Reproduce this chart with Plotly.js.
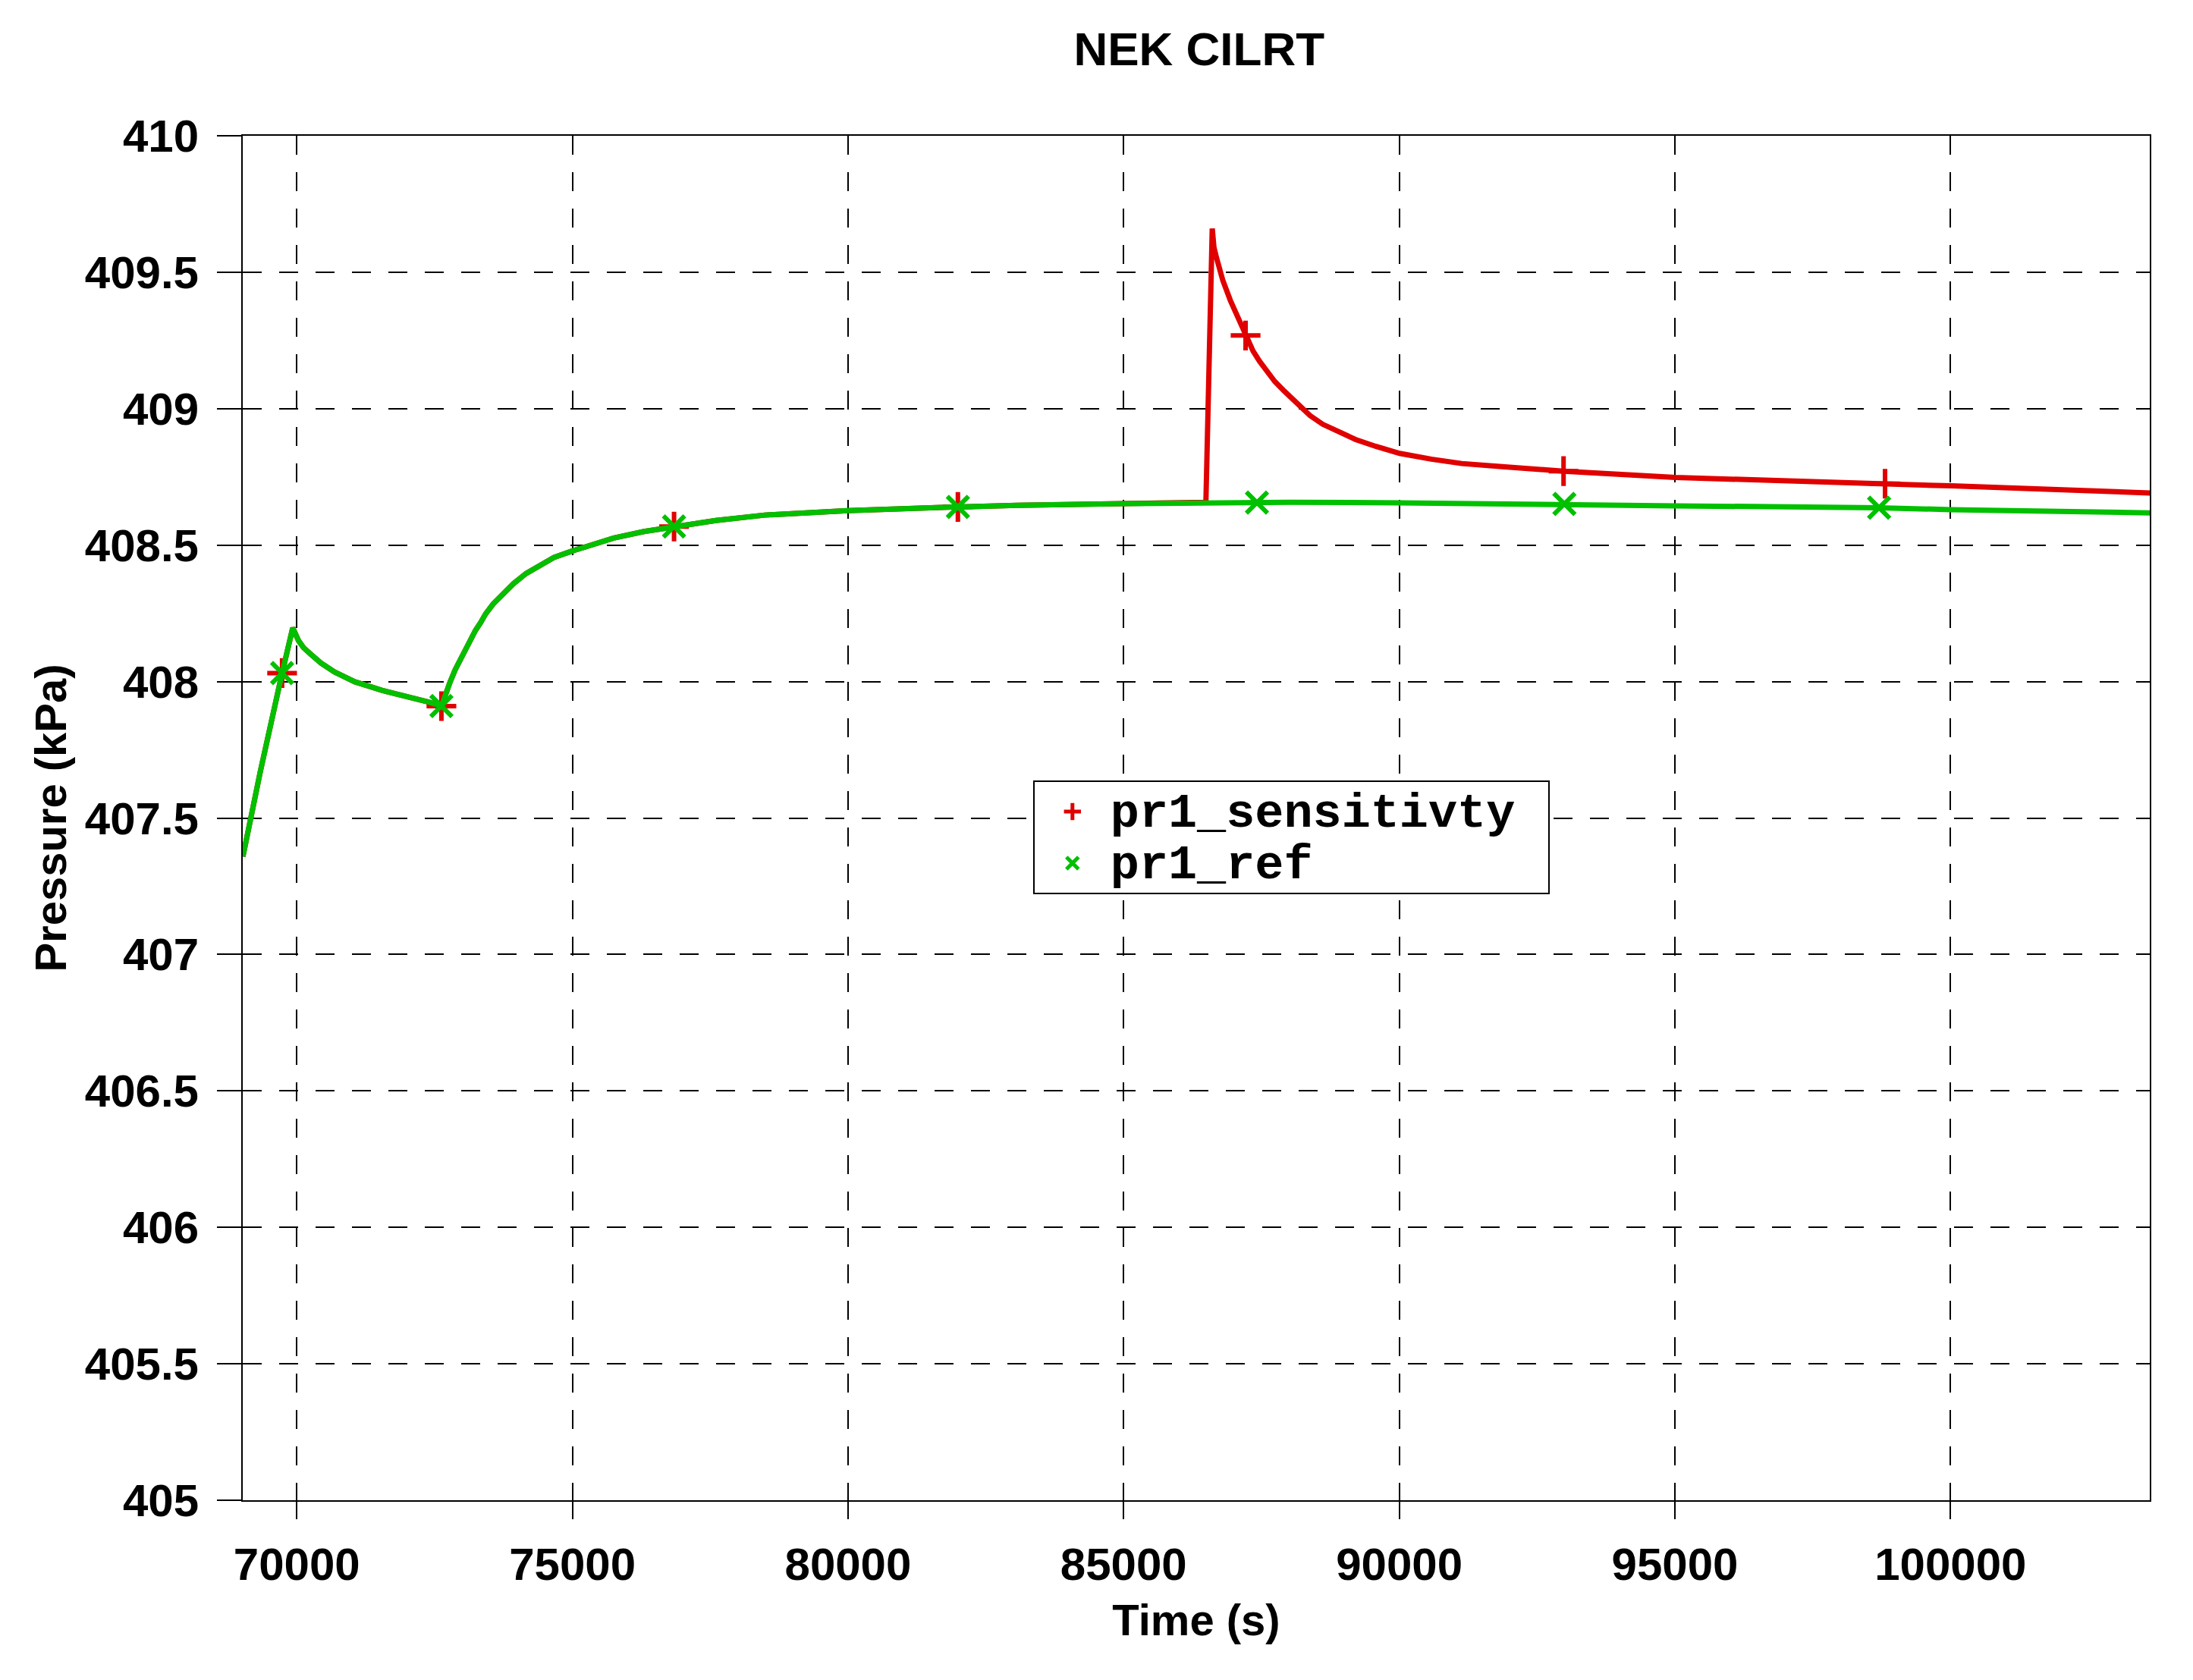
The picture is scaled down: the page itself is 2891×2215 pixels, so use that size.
<!DOCTYPE html>
<html>
<head>
<meta charset="utf-8">
<script src="https://cdn.plot.ly/plotly-3.0.1.min.js"></script>
<style>html,body{margin:0;padding:0;background:#fff;}#chart{width:2891px;height:2215px;}</style>
</head>
<body>
<div id="chart"></div>
<script>
// ---- data ----
const chartTitle = "NEK CILRT";
const xTitle = "Time (s)";
const yTitle = "Pressure (kPa)";
const seriesNames = ["pr1_sensitivty", "pr1_ref"];

const refTime = [69023, 69343, 69734, 69927, 70032, 70124, 70255, 70439, 70684, 71053, 71544, 71913, 72404,
  72624, 72693, 72785, 72876, 72922, 73013, 73106, 73243, 73335, 73426, 73565, 73748, 73932, 74160, 74390,
  74666, 74990, 75308, 75749, 76300, 76844, 77600, 78487, 79993, 81993, 83061, 85000, 86500, 88000, 90000,
  92000, 92995, 95010, 98704, 100009, 103617];
const refPressure = [407.359, 407.674, 408.031, 408.197, 408.150, 408.124, 408.100, 408.068, 408.035, 407.999, 407.968, 407.950, 407.924,
  407.910, 407.952, 408.000, 408.044, 408.063, 408.100, 408.137, 408.188, 408.216, 408.248, 408.285, 408.322, 408.359, 408.396, 408.424,
  408.455, 408.478, 408.500, 408.526, 408.550, 408.568, 408.590, 408.610, 408.626, 408.640, 408.646, 408.652, 408.656, 408.657, 408.655,
  408.652, 408.651, 408.644, 408.637, 408.630, 408.618];

const sensTime = [69023, 69343, 69734, 69927, 70032, 70124, 70255, 70439, 70684, 71053, 71544, 71913, 72404,
  72624, 72693, 72785, 72876, 72922, 73013, 73106, 73243, 73335, 73426, 73565, 73748, 73932, 74160, 74390,
  74666, 74990, 75308, 75749, 76300, 76844, 77600, 78487, 79993, 81993, 83061, 85000, 86492,
  86607, 86638, 86683, 86799, 86937, 87212, 87348, 87464, 87600, 87739, 87921, 88152, 88380, 88610, 88884,
  89208, 89572, 90008, 90582, 91132, 91820, 92980, 95011, 98812, 100009, 103617];
const sensPressure = [407.359, 407.674, 408.031, 408.197, 408.150, 408.124, 408.100, 408.068, 408.035, 407.999, 407.968, 407.950, 407.924,
  407.910, 407.952, 408.000, 408.044, 408.063, 408.100, 408.137, 408.188, 408.216, 408.248, 408.285, 408.322, 408.359, 408.396, 408.424,
  408.455, 408.478, 408.500, 408.526, 408.550, 408.568, 408.590, 408.610, 408.626, 408.640, 408.646, 408.652, 408.657,
  409.660, 409.591, 409.554, 409.470, 409.396, 409.268, 409.211, 409.174, 409.137, 409.100, 409.063, 409.017, 408.975, 408.943, 408.917,
  408.887, 408.862, 408.836, 408.815, 408.799, 408.788, 408.771, 408.748, 408.725, 408.717, 408.691];

const sensMarkTime = [69734, 72624, 76844, 81993, 87212, 92980, 98812];
const sensMarkPressure = [408.031, 407.910, 408.568, 408.640, 409.268, 408.771, 408.725];
const refMarkTime = [69734, 72624, 76844, 81993, 87418, 92995, 98704];
const refMarkPressure = [408.031, 407.910, 408.568, 408.640, 408.656, 408.651, 408.637];

const xRange = [69020, 103614];
const yRange = [405, 410];
const xTicks = [70000, 75000, 80000, 85000, 90000, 95000, 100000];
const yTicks = [405, 405.5, 406, 406.5, 407, 407.5, 408, 408.5, 409, 409.5, 410];

// ---- styling ----
const RED = "rgb(224,0,0)";
const GREEN = "rgb(0,192,0)";
const sansBold = {family: "Liberation Sans, Arial, sans-serif", weight: 700, color: "#000"};
const legendText = name => '<span style="font-size:63.5px">' + name + '</span>';

const traces = [
  {x: sensTime, y: sensPressure, mode: "lines", line: {color: RED, width: 7}, showlegend: false, hoverinfo: "skip"},
  {x: sensMarkTime, y: sensMarkPressure, mode: "markers", name: legendText(seriesNames[0] + "\u00a0"),
   marker: {symbol: "cross-thin", size: 28, color: RED, line: {color: RED, width: 6}}},
  {x: refTime, y: refPressure, mode: "lines", line: {color: GREEN, width: 7}, showlegend: false, hoverinfo: "skip"},
  {x: refMarkTime, y: refMarkPressure, mode: "markers", name: legendText(seriesNames[1]),
   marker: {symbol: "x-thin", size: 28, color: GREEN, line: {color: GREEN, width: 6}}}
];

const gridDash = "25px,23px";
const layout = {
  width: 2891, height: 2215,
  paper_bgcolor: "#fff", plot_bgcolor: "#fff",
  margin: {l: 320, r: 57, t: 179, b: 237, pad: 0},
  title: {text: chartTitle, x: 0.5015, xanchor: "center", xref: "paper", y: 1 - 64/2215, yanchor: "middle",
          font: Object.assign({size: 62}, sansBold)},
  xaxis: {
    range: xRange, tickvals: xTicks, ticktext: xTicks.map(String),
    showgrid: true, gridcolor: "#000", gridwidth: 2, griddash: gridDash,
    showline: true, linecolor: "#000", linewidth: 2, mirror: true,
    ticks: "outside", ticklen: 23, tickwidth: 2, tickcolor: "#000",
    tickfont: Object.assign({size: 60}, sansBold), ticklabelstandoff: 8,
    zeroline: false, automargin: false,
    title: {text: xTitle, font: Object.assign({size: 58}, sansBold), standoff: 20}
  },
  yaxis: {
    range: yRange, tickvals: yTicks, ticktext: yTicks.map(String),
    showgrid: true, gridcolor: "#000", gridwidth: 2, griddash: gridDash,
    showline: true, linecolor: "#000", linewidth: 2, mirror: true,
    ticks: "outside", ticklen: 32, tickwidth: 2, tickcolor: "#000",
    tickfont: Object.assign({size: 60}, sansBold), ticklabelstandoff: 12,
    zeroline: false, automargin: false,
    title: {text: yTitle, font: Object.assign({size: 58}, sansBold), standoff: 6}
  },
  legend: {
    x: 0.4144, y: 0.5275, xanchor: "left", yanchor: "top",
    bgcolor: "#fff", bordercolor: "#000", borderwidth: 2,
    font: {family: "Liberation Mono, Courier New, monospace", weight: 700, size: 50, color: "#000"},
    itemwidth: 90, tracegroupgap: 0
  },
  showlegend: true
};

Plotly.newPlot("chart", traces, layout, {staticPlot: true, displayModeBar: false});
</script>
</body>
</html>
